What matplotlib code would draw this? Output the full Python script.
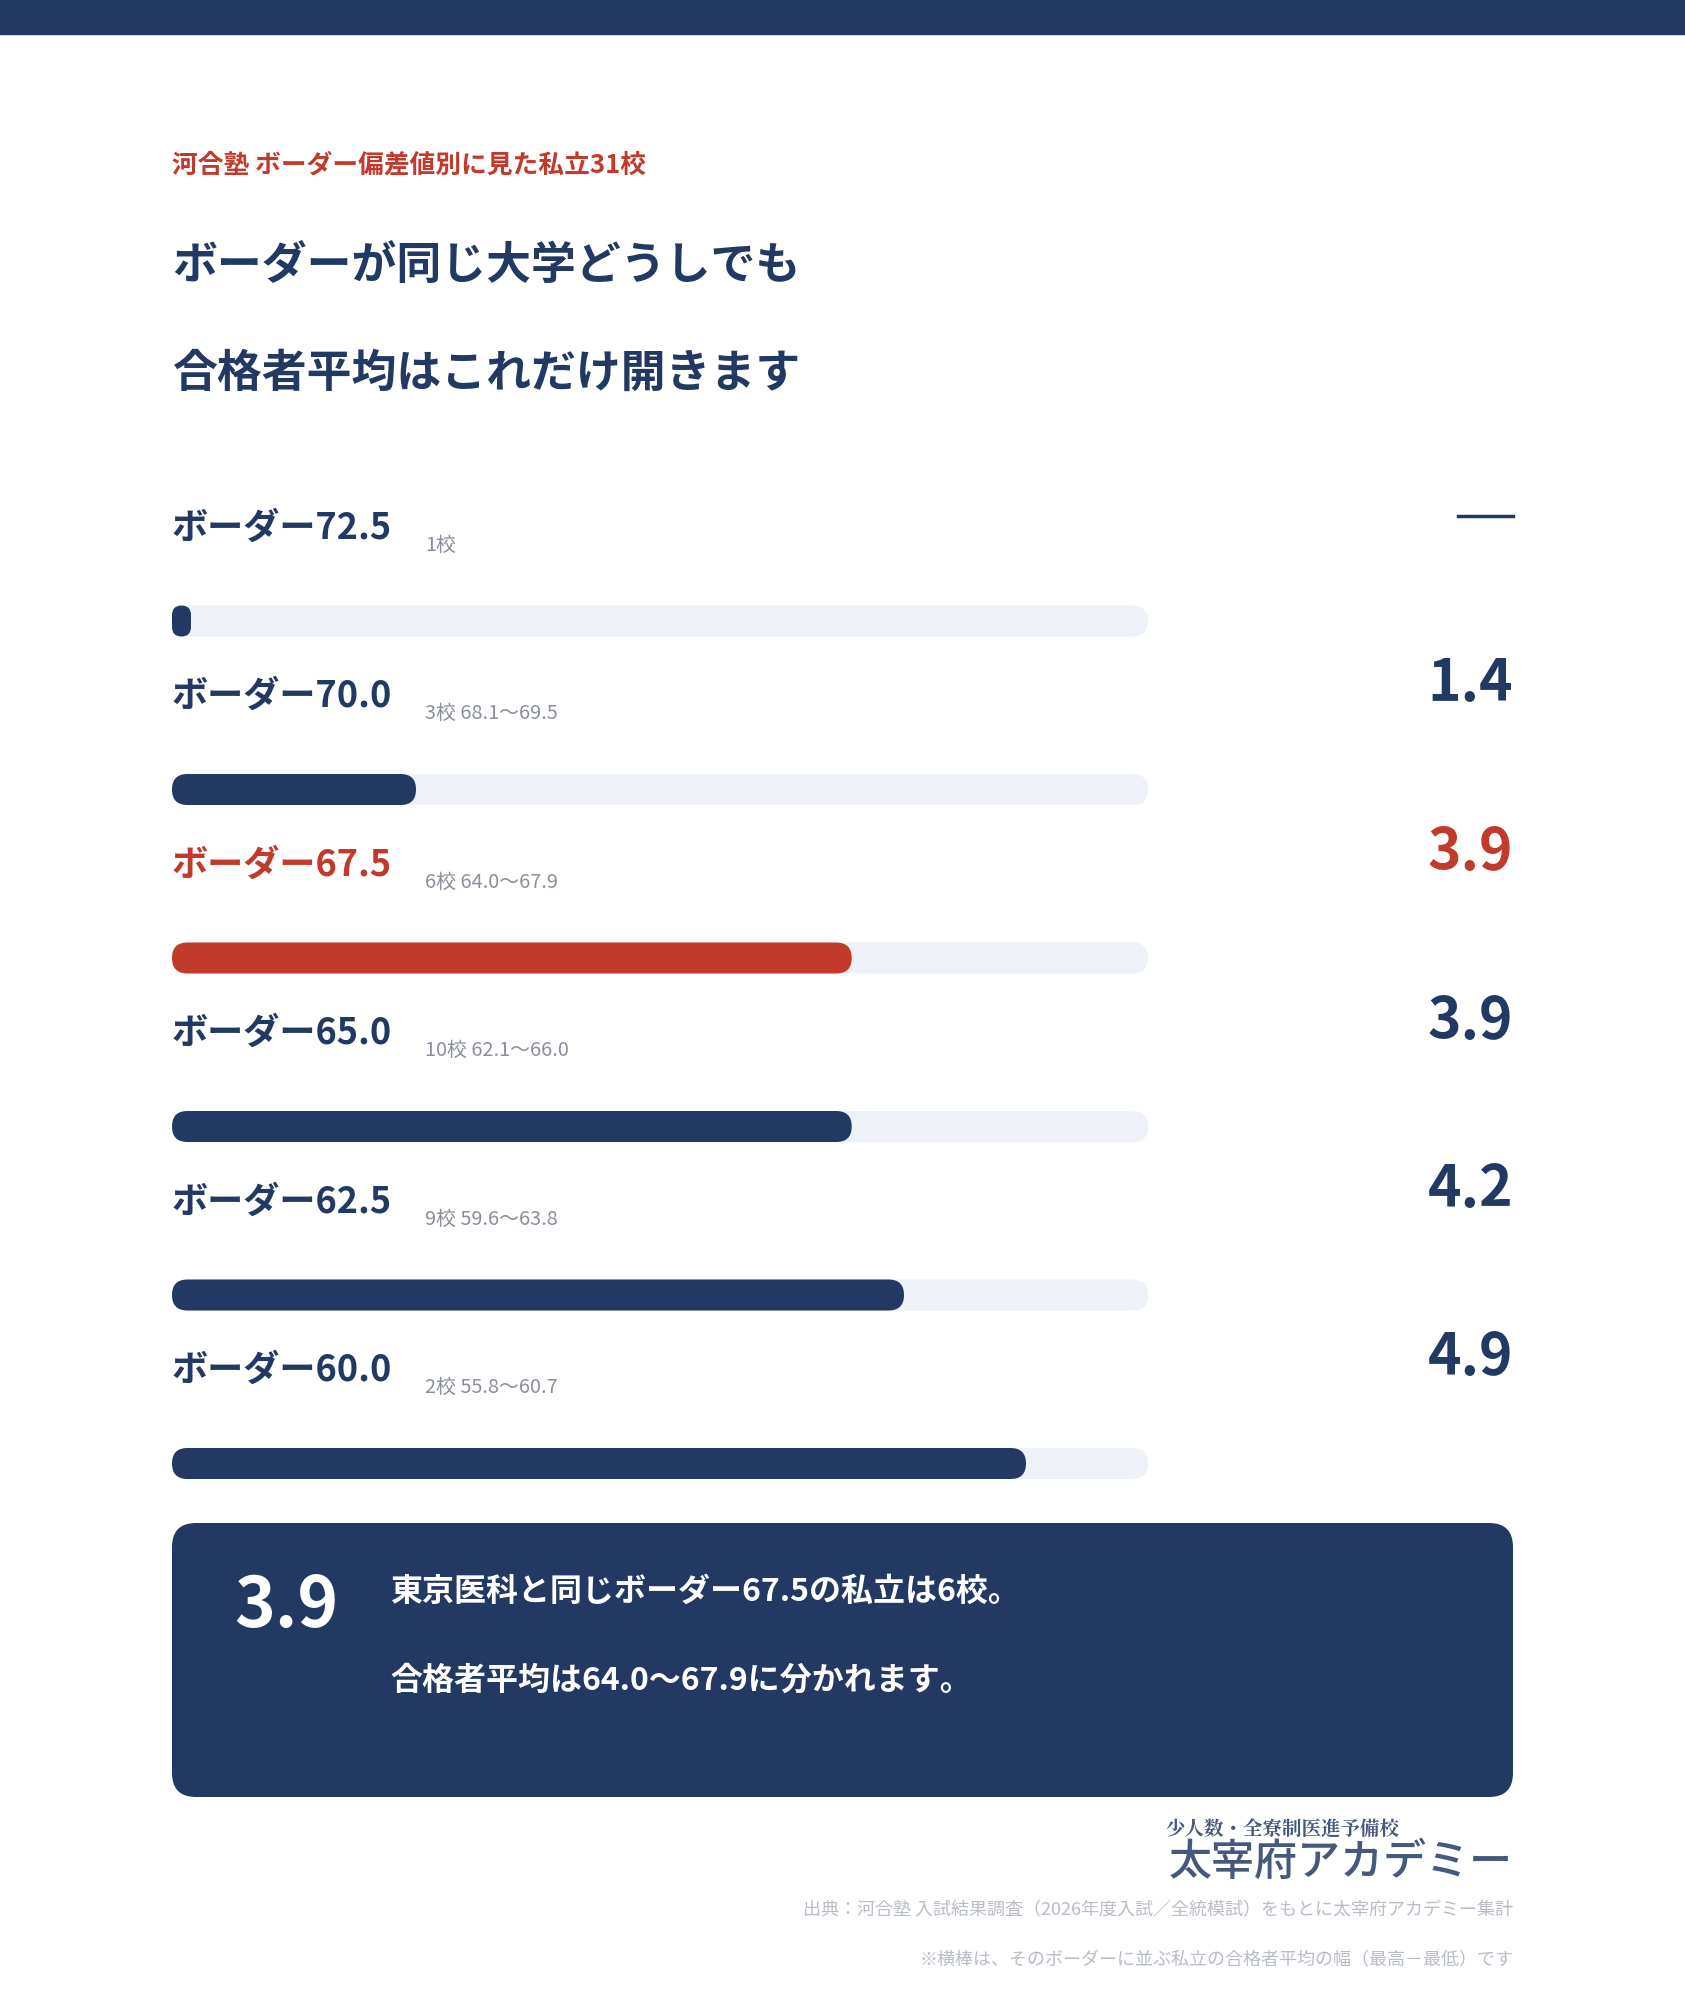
import matplotlib
matplotlib.use("Agg")
import matplotlib.pyplot as plt
from matplotlib.patches import FancyBboxPatch, Rectangle

plt.rcParams["font.family"] = ["Noto Sans CJK JP", "DejaVu Sans"]

NAVY = "#213963"
RED = "#c23a2b"
TRACK = "#eef1f8"
GRAY = "#8a8f9a"
LIGHT = "#b9bdc7"

borders = ["72.5", "70.0", "67.5", "65.0", "62.5", "60.0"]
details = ["1校", "3校 68.1〜69.5", "6校 64.0〜67.9", "10校 62.1〜66.0", "9校 59.6〜63.8", "2校 55.8〜60.7"]
spreads = [0.0, 1.4, 3.9, 3.9, 4.2, 4.9]
spread_labels = ["—", "1.4", "3.9", "3.9", "4.2", "4.9"]
highlight = "67.5"
scale_max = 5.6

W, H = 1685, 2000
fig = plt.figure(figsize=(W / 100, H / 100), dpi=100)
ax = fig.add_axes([0, 0, 1, 1])
ax.set_xlim(0, W)
ax.set_ylim(H, 0)
ax.axis("off")

ax.add_patch(Rectangle((0, 0), W, 34, color=NAVY))

left, right = 172, 1513
ax.text(left, 165, "河合塾 ボーダー偏差値別に見た私立31校", color=RED, fontsize=18.5,
        fontweight="bold", va="center")
ax.text(left, 266, "ボーダーが同じ大学どうしでも", color=NAVY, fontsize=32.3,
        fontweight="bold", va="center")
ax.text(left, 374, "合格者平均はこれだけ開きます", color=NAVY, fontsize=32.3,
        fontweight="bold", va="center")

track_len = 976
bar_h = 31
row0, step = 528, 168.5
for i, (b, d, s, sl) in enumerate(zip(borders, details, spreads, spread_labels)):
    y = row0 + i * step
    col = RED if b == highlight else NAVY
    ax.text(left, y, "ボーダー" + b, color=col, fontsize=26, fontweight="bold", va="center")
    ax.text(425, y + 17, d, color=GRAY, fontsize=14.3, va="center")
    if sl == "—":
        ax.plot([1458, 1513], [y - 12, y - 12], color=NAVY, lw=2.5)
    else:
        ax.text(right, y - 12, sl, color=col, fontsize=41, fontweight="bold",
                ha="right", va="center")
    by = y + 93
    ax.add_patch(FancyBboxPatch((left, by - bar_h / 2), track_len, bar_h,
                                boxstyle=f"round,pad=0,rounding_size={bar_h / 2}",
                                fc=TRACK, ec="none"))
    w = max(track_len * s / scale_max, 19)
    ax.add_patch(FancyBboxPatch((left, by - bar_h / 2), w, bar_h,
                                boxstyle=f"round,pad=0,rounding_size={min(bar_h, w) / 2}",
                                fc=col, ec="none"))

# callout box
ax.add_patch(FancyBboxPatch((left, 1523), right - left, 274,
                            boxstyle="round,pad=0,rounding_size=24", fc=NAVY, ec="none"))
ax.text(234, 1607, "3.9", color="white", fontsize=50, fontweight="bold", va="center")
ax.text(390, 1592, "東京医科と同じボーダー67.5の私立は6校。", color="white", fontsize=23,
        fontweight="bold", va="center")
ax.text(390, 1681, "合格者平均は64.0〜67.9に分かれます。", color="white", fontsize=23,
        fontweight="bold", va="center")

# logo text
ax.text(1165, 1830, "少人数・全寮制医進予備校", color="#46597d", fontsize=14,
        fontweight="bold", va="center", family=["Noto Serif CJK JP", "Noto Sans CJK JP"])
ax.text(right, 1862, "太宰府アカデミー", color="#46597d", fontsize=31, fontweight="medium",
        ha="right", va="center")

ax.text(right, 1910, "出典：河合塾 入試結果調査（2026年度入試／全統模試）をもとに太宰府アカデミー集計",
        color=LIGHT, fontsize=13, ha="right", va="center")
ax.text(right, 1960, "※横棒は、そのボーダーに並ぶ私立の合格者平均の幅（最高－最低）です",
        color=LIGHT, fontsize=13, ha="right", va="center")

fig.savefig("out.png", dpi=100, facecolor="white")
